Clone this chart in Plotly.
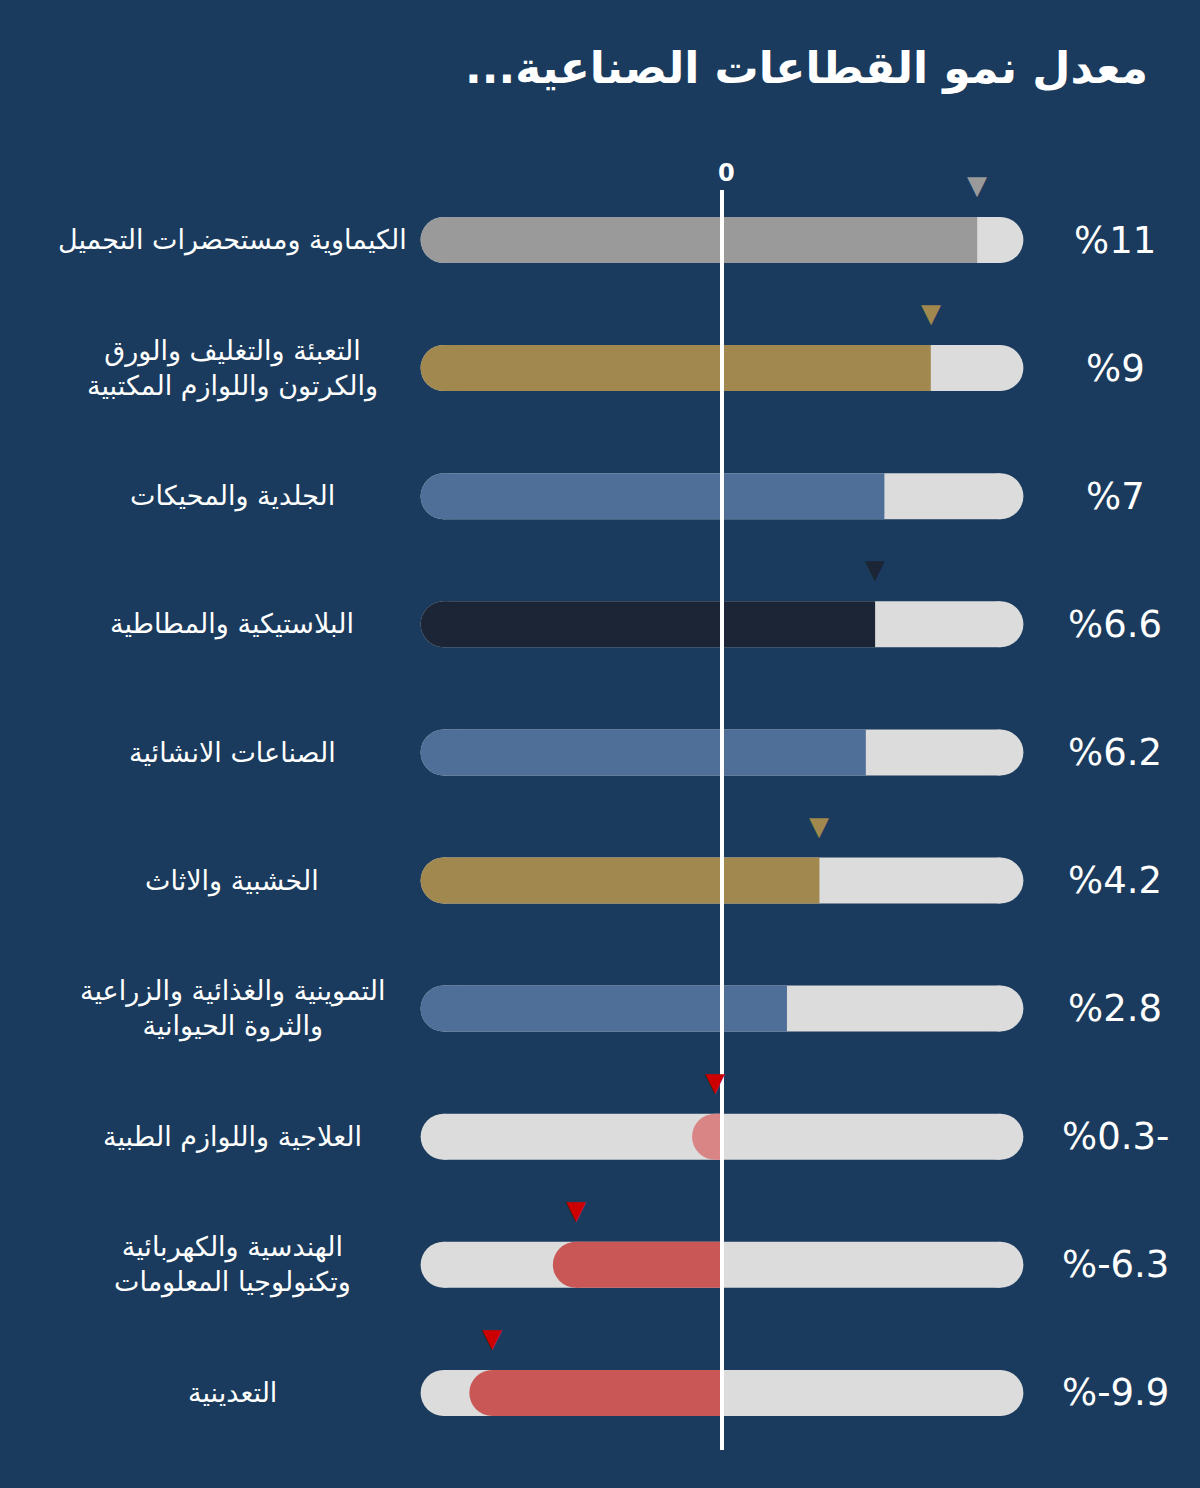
import plotly.graph_objects as go

# ---------------- data ----------------
categories = [
    "الكيماوية ومستحضرات التجميل",
    "التعبئة والتغليف والورق<br>والكرتون واللوازم المكتبية",
    "الجلدية والمحيكات",
    "البلاستيكية والمطاطية",
    "الصناعات الانشائية",
    "الخشبية والاثاث",
    "التموينية والغذائية والزراعية<br>والثروة الحيوانية",
    "العلاجية واللوازم الطبية",
    "الهندسية والكهربائية<br>وتكنولوجيا المعلومات",
    "التعدينية",
]
growth = [11, 9, 7, 6.6, 6.2, 4.2, 2.8, -0.3, -6.3, -9.9]
value_labels = ["%11", "%9", "%7", "%6.6", "%6.2", "%4.2", "%2.8", "%0.3-", "%-6.3", "%-9.9"]
bar_colors = ["#9a9a9a", "#a0884f", "#4f6f99", "#1b2536", "#4f6f99",
              "#a0884f", "#4f6f99", "#d98585", "#c95756", "#c95756"]
marker_colors = ["#9a9a9a", "#a0884f", None, "#1b2536", None,
                 "#a0884f", None, "#cc0000", "#cc0000", "#cc0000"]
title_text = "معدل نمو القطاعات الصناعية...\u200f"
track_limit = 12

# ---------------- style ----------------
BG = "#1a3b5d"
TRACK = "#dcdcdc"
FONT = "DejaVu Sans"
W, H = 1200, 1488
PX_PER_UNIT = 23.2
ZERO_PX = 722
ROW0_PX, ROW_STEP = 240, 128.1
THICK = 46  # bar thickness in px

x_range = [-ZERO_PX / PX_PER_UNIT, (W - ZERO_PX) / PX_PER_UNIT]
n = len(categories)
y_range = [(H - ROW0_PX) / ROW_STEP, -ROW0_PX / ROW_STEP]

fig = go.Figure()


def seg_trace(x0s, x1s, cats, color):
    xs, ys = [], []
    for a, b, c in zip(x0s, x1s, cats):
        xs += [a, b, None]
        ys += [c, c, None]
    return go.Scatter(x=xs, y=ys, mode="lines", connectgaps=False,
                      line=dict(color=color, width=THICK),
                      hoverinfo="skip", showlegend=False)


def cap_trace(xs, cats, colors):
    return go.Scatter(x=xs, y=cats, mode="markers",
                      marker=dict(size=THICK, color=colors, line_width=0),
                      hoverinfo="skip", showlegend=False)


# 1) left half of the track
fig.add_trace(seg_trace([-track_limit] * n, [0] * n, categories, TRACK))
fig.add_trace(cap_trace([-track_limit] * n, categories, [TRACK] * n))

# 2) negative bars: from zero to the value, rounded at the value
neg = [i for i, v in enumerate(growth) if v < 0]
for i in neg:
    fig.add_trace(seg_trace([growth[i]], [0], [categories[i]], bar_colors[i]))
fig.add_trace(cap_trace([growth[i] for i in neg], [categories[i] for i in neg],
                        [bar_colors[i] for i in neg]))

# 3) right half of the track
fig.add_trace(seg_trace([0] * n, [track_limit] * n, categories, TRACK))
fig.add_trace(cap_trace([track_limit] * n, categories, [TRACK] * n))

# 4) positive bars: from the left end of the track to the value
pos = [i for i, v in enumerate(growth) if v >= 0]
for i in pos:
    fig.add_trace(seg_trace([-track_limit], [growth[i]], [categories[i]], bar_colors[i]))
fig.add_trace(cap_trace([-track_limit] * len(pos), [categories[i] for i in pos],
                        [bar_colors[i] for i in pos]))

annotations = []
# triangle markers
for cat, v, mc in zip(categories, growth, marker_colors):
    if mc is None:
        continue
    annotations.append(dict(
        x=v, y=cat, xref="x", yref="y", text="▼", showarrow=False,
        yshift=55, font=dict(family=FONT, size=26, color=mc)))
# category labels (left) and value labels (right)
for cat, lab in zip(categories, value_labels):
    annotations.append(dict(
        x=232 / W, y=cat, xref="paper", yref="y", text=cat, showarrow=False,
        xanchor="center", align="center",
        font=dict(family=FONT, size=27, color="#ffffff")))
    annotations.append(dict(
        x=1115 / W, y=cat, xref="paper", yref="y", text=lab, showarrow=False,
        xanchor="center", font=dict(family=FONT, size=37, color="#ffffff")))
# zero label
annotations.append(dict(
    x=0, y=1 - 173 / H, xref="x", yref="paper", text="<b>0</b>", showarrow=False,
    yanchor="middle", xshift=4,
    font=dict(family=FONT, size=24, color="#ffffff")))
# title
annotations.append(dict(
    x=1150 / W, y=1 - 68 / H, xref="paper", yref="paper", text="<b>" + title_text + "</b>",
    showarrow=False, xanchor="right", yanchor="middle",
    font=dict(family=FONT, size=44, color="#ffffff")))

fig.update_layout(
    width=W, height=H, margin=dict(l=0, r=0, t=0, b=0),
    paper_bgcolor=BG, plot_bgcolor=BG,
    annotations=annotations,
    shapes=[dict(type="line", xref="x", yref="paper", x0=0, x1=0,
                 y0=1 - 190 / H, y1=1 - 1450 / H,
                 line=dict(color="#ffffff", width=4), layer="above")],
    xaxis=dict(range=x_range, visible=False, fixedrange=True),
    yaxis=dict(range=y_range, visible=False, fixedrange=True,
               categoryorder="array", categoryarray=categories),
)

fig.write_html("out.html")
